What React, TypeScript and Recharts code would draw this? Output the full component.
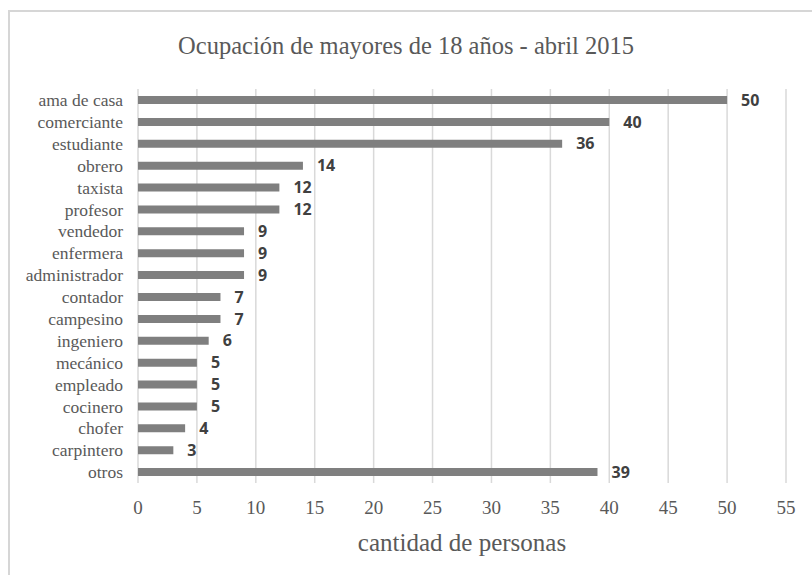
import { BarChart, Bar, XAxis, YAxis, CartesianGrid, LabelList, Label } from "recharts";

const categories = [
  "ama de casa",
  "comerciante",
  "estudiante",
  "obrero",
  "taxista",
  "profesor",
  "vendedor",
  "enfermera",
  "administrador",
  "contador",
  "campesino",
  "ingeniero",
  "mecánico",
  "empleado",
  "cocinero",
  "chofer",
  "carpintero",
  "otros"
];
const personas = [50, 40, 36, 14, 12, 12, 9, 9, 9, 7, 7, 6, 5, 5, 5, 4, 3, 39];
const xTicks = [0, 5, 10, 15, 20, 25, 30, 35, 40, 45, 50, 55];

const data = categories.map((name, i) => ({ name, value: personas[i] }));

const serif = '"Liberation Serif", "Times New Roman", serif';

export default function App() {
  return (
    <div
      style={{
        position: "absolute",
        left: 0,
        top: 0,
        width: 812,
        height: 575,
        overflow: "hidden",
        background: "white"
      }}
    >
      <div
        style={{
          position: "absolute",
          left: 8,
          top: 10,
          width: 900,
          height: 700,
          border: "2px solid #d6d6d6"
        }}
      />
      <div
        style={{
          position: "absolute",
          left: 0,
          top: 32,
          width: 812,
          textAlign: "center",
          fontFamily: serif,
          fontSize: 24.5,
          color: "#595959"
        }}
      >
        Ocupación de mayores de 18 años - abril 2015
      </div>
      <div style={{ position: "absolute", left: 0, top: 0 }}>
        <BarChart
          width={812}
          height={575}
          data={data}
          layout="vertical"
          margin={{ top: 89, right: 26, left: 0, bottom: 62 }}
          barCategoryGap={0}
        >
          <CartesianGrid stroke="#d9d9d9" strokeWidth={1.5} horizontal={false} />
          <XAxis
            type="number"
            domain={[0, 55]}
            ticks={xTicks}
            axisLine={false}
            tickLine={false}
            tickSize={0}
            tickMargin={18}
            height={30}
            tick={{ fill: "#595959", fontSize: 19, fontFamily: serif }}
          >
            <Label
              value="cantidad de personas"
              position="bottom"
              offset={20}
              style={{ fill: "#595959", fontSize: 25, fontFamily: serif }}
            />
          </XAxis>
          <YAxis
            type="category"
            dataKey="name"
            width={138}
            axisLine={false}
            tickLine={false}
            tickSize={0}
            tickMargin={15}
            interval={0}
            tick={{ fill: "#595959", fontSize: 17.5, fontFamily: serif }}
          />
          <Bar dataKey="value" fill="#7f7f7f" barSize={8} isAnimationActive={false}>
            <LabelList
              dataKey="value"
              position="right"
              offset={14}
              style={{ fill: "#404040", fontSize: 16, fontWeight: 700, fontFamily: '"Open Sans", sans-serif' }}
            />
          </Bar>
        </BarChart>
      </div>
    </div>
  );
}
